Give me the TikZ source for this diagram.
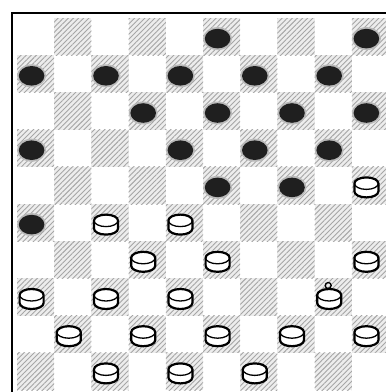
\documentclass[tikz,border=0pt]{standalone}
\usetikzlibrary{patterns.meta}
\begin{document}
\begin{tikzpicture}[x=1pt,y=-1pt,
  darksq/.style={preaction={fill=gray!14}, pattern={Lines[angle=45,distance=3.6pt,line width=0.9pt]}, pattern color=gray!70},
  blackpiece/.pic={
    \fill[gray!55] (0,0) ellipse [x radius=14.5pt, y radius=11.5pt];
    \fill[black!88] (0,0) ellipse [x radius=12.8pt, y radius=9.8pt];
  },
  whitepiece/.pic={
    \filldraw[fill=white, line width=2.2pt] (-12,-4) -- (-12,4)
      arc[start angle=180,end angle=360,x radius=12pt,y radius=6pt] -- (12,-4)
      arc[start angle=0,end angle=180,x radius=12pt,y radius=6pt] -- cycle;
    \draw[line width=1.3pt] (-12,-4) arc[start angle=180,end angle=360,x radius=12pt,y radius=6pt];
  },
  kingpiece/.pic={
    \pic {whitepiece};
    \draw[line width=1.3pt] (-1,-13.5) circle[radius=3pt];
  }]
\useasboundingbox (0,0) rectangle (386,392);
\fill[white] (0,0) rectangle (386,392);
\begin{scope}
\clip (0,0) rectangle (386,392);
\foreach \r in {0,...,9}{
  \foreach \c in {0,2,...,8}{
    \pgfmathtruncatemacro\cc{\c+1-mod(\r,2)}
    \path[darksq] ({17+37.2*\cc},{18+37.2*\r}) rectangle +(37.2,37.2);
  }
}
\draw[line width=2.4pt] (12,392) -- (12,13) -- (386,13);
\foreach \r/\c in {0/5,0/9,1/0,1/2,1/4,1/6,1/8,2/3,2/5,2/7,2/9,3/0,3/4,3/6,3/8,4/5,4/7,5/0}
  \pic at ({17+37.2*(\c+0.5)-4},{18+37.2*(\r+0.5)+2}) {blackpiece};
\foreach \r/\c in {4/9,5/2,5/4,6/3,6/5,6/9,7/0,7/2,7/4,8/1,8/3,8/5,8/7,8/9,9/2,9/4,9/6}
  \pic at ({17+37.2*(\c+0.5)-4},{18+37.2*(\r+0.5)+2}) {whitepiece};
\pic at ({17+37.2*8.5-4},{18+37.2*7.5+2}) {kingpiece};
\end{scope}
\end{tikzpicture}
\end{document}
